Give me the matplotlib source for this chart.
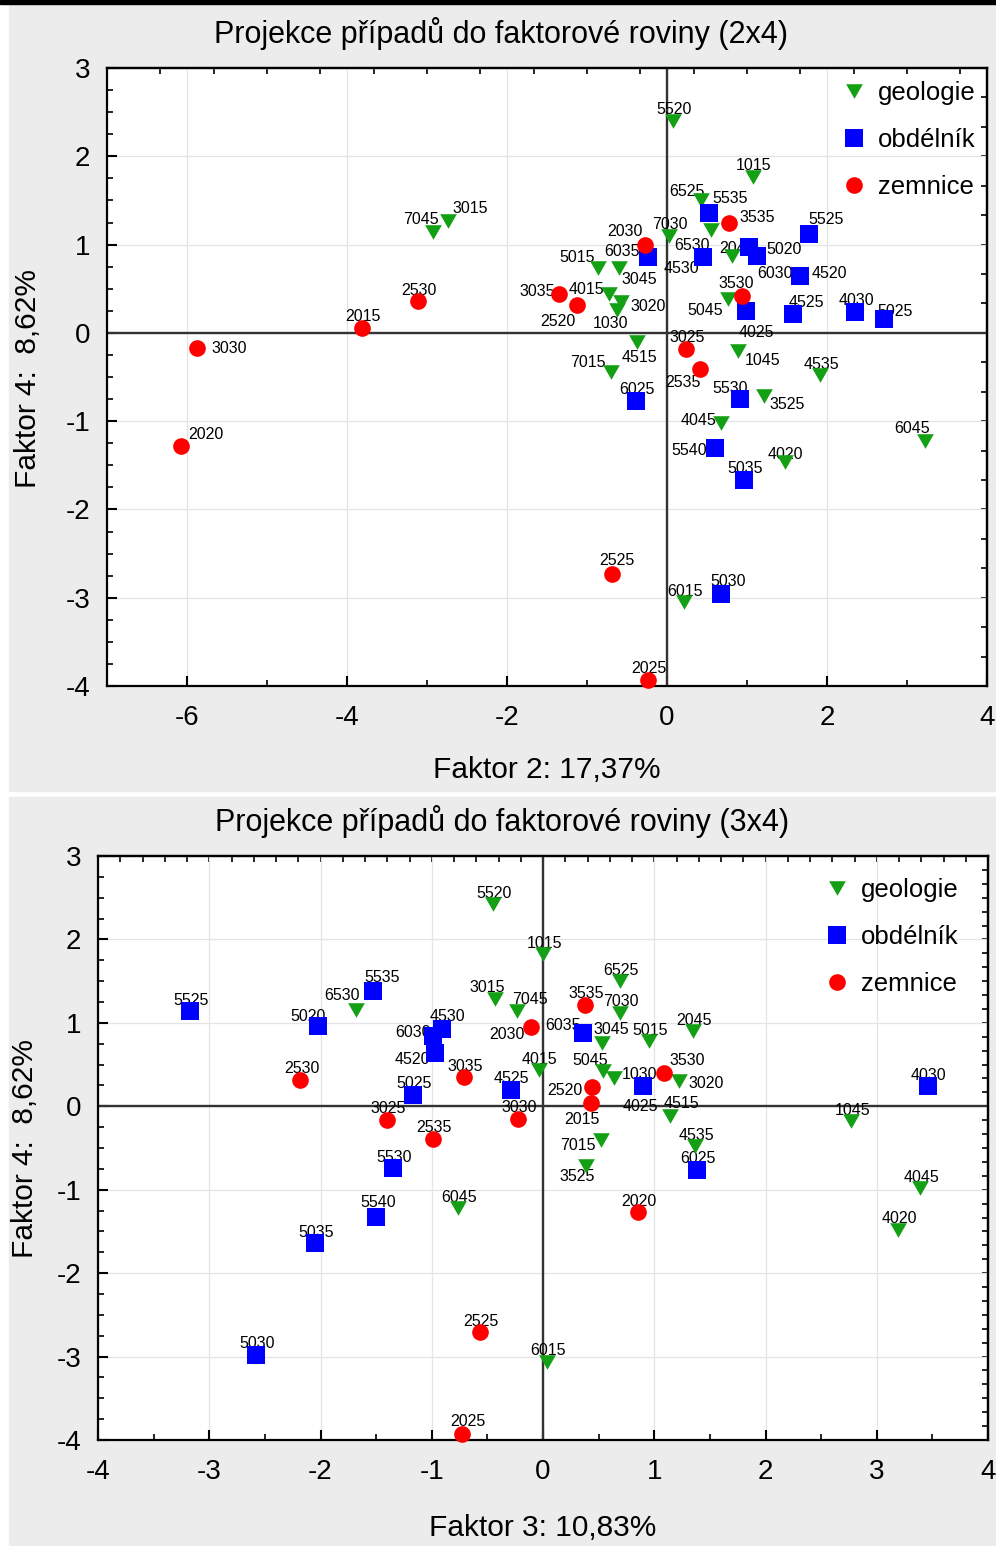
import matplotlib
matplotlib.use("Agg")
import matplotlib.pyplot as plt
import numpy as np
from matplotlib.lines import Line2D
from matplotlib.patches import Rectangle
from matplotlib.ticker import MultipleLocator

plt.rcParams['font.family'] = ['Liberation Sans', 'DejaVu Sans']
plt.rcParams['axes.unicode_minus'] = False

# ---------------- case scores ----------------
categories = ["geologie", "obdélník", "zemnice"]

geologie_ids = ["5520", "1015", "6525", "3015", "7045", "7030", "5015", "2045", "3045",
                "4015", "3020", "1030", "5045", "4515", "7015", "1045", "4535", "3525",
                "4045", "6045", "4020", "6015", "6530"]
geologie_f2 = [0.07, 1.07, 0.43, -2.74, -2.92, 0.02, -0.865, 0.815, -0.60,
               -0.72, -0.57, -0.63, 0.76, -0.38, -0.70, 0.885, 1.915, 1.21,
               0.68, 3.23, 1.475, 0.21, 0.55]
geologie_f4_24 = [2.40, 1.77, 1.50, 1.27, 1.14, 1.10, 0.74, 0.875, 0.74,
                  0.44, 0.35, 0.26, 0.385, -0.105, -0.445, -0.20, -0.48, -0.71,
                  -1.02, -1.22, -1.46, -3.05, 1.16]
geologie_f3 = [-0.45, 0.00, 0.69, -0.43, -0.23, 0.69, 0.955, 1.345, 0.53,
               -0.04, 1.22, 0.635, 0.54, 1.14, 0.525, 2.77, 1.37, 0.39,
               3.39, -0.76, 3.19, 0.04, -1.68]
geologie_f4_34 = [2.42, 1.82, 1.50, 1.28, 1.14, 1.12, 0.78, 0.90, 0.76,
                  0.43, 0.30, 0.34, 0.42, -0.12, -0.41, -0.18, -0.48, -0.72,
                  -0.98, -1.22, -1.48, -3.06, 1.16]

obdelnik_ids = ["5535", "5525", "5020", "6030", "4520", "4530", "6035", "4525", "4030",
                "5025", "4025", "6025", "5530", "5540", "5035", "5030"]
obdelnik_f2 = [0.53, 1.77, 1.03, 1.12, 1.66, 0.45, -0.24, 1.58, 2.35,
               2.71, 0.99, -0.385, 0.91, 0.60, 0.96, 0.67]
obdelnik_f4_24 = [1.355, 1.12, 0.97, 0.875, 0.645, 0.86, 0.86, 0.215, 0.24,
                  0.16, 0.245, -0.77, -0.75, -1.30, -1.665, -2.955]
obdelnik_f3 = [-1.53, -3.17, -2.02, -0.99, -0.97, -0.905, 0.36, -0.29, 3.46,
               -1.17, 0.90, 1.38, -1.35, -1.50, -2.05, -2.58]
obdelnik_f4_34 = [1.38, 1.14, 0.96, 0.84, 0.64, 0.93, 0.88, 0.20, 0.24,
                  0.14, 0.24, -0.76, -0.74, -1.33, -1.64, -2.98]

zemnice_ids = ["3535", "2030", "3530", "3035", "2520", "2015", "2530", "3030", "2020",
               "3025", "2535", "2525", "2025"]
zemnice_f2 = [0.77, -0.28, 0.94, -1.35, -1.13, -3.81, -3.11, -5.87, -6.07,
              0.24, 0.41, -0.69, -0.24]
zemnice_f4_24 = [1.24, 0.99, 0.42, 0.44, 0.32, 0.06, 0.36, -0.17, -1.28,
                 -0.18, -0.41, -2.73, -3.93]
zemnice_f3 = [0.375, -0.105, 1.09, -0.71, 0.44, 0.43, -2.18, -0.225, 0.85,
              -1.40, -0.99, -0.57, -0.73]
zemnice_f4_34 = [1.22, 0.95, 0.40, 0.35, 0.23, 0.04, 0.32, -0.15, -1.27,
                 -0.16, -0.39, -2.71, -3.93]

titles = ["Projekce případů do faktorové roviny (2x4)",
          "Projekce případů do faktorové roviny (3x4)"]
xlabels = ["Faktor 2: 17,37%", "Faktor 3: 10,83%"]
ylabel = "Faktor 4:  8,62%"

# ---------------- styling ----------------
W, H = 996, 1546
COLORS = {"geologie": "#14a014", "obdélník": "#0000ff", "zemnice": "#ff0000"}
TRI = [(-1, 0.875), (1, 0.875), (0, -0.875), (-1, 0.875)]
MARKERS = {"geologie": (TRI, 12.0), "obdélník": ("s", 12.5), "zemnice": ("o", 12.0)}

# label offsets (pixels: dx right, dy down) from the point centre
DEFAULT_OFF = (1, -11)
OFF_24 = {"6525": (-14, -9), "5535": (21, -15), "3535": (29, -6), "5525": (17, -14),
          "2030": (-20, -14), "6035": (-26, -5), "5015": (-21, -10), "3045": (20, 12),
          "6530": (-19, 15), "4530": (-22, 12), "2045": (5, -7), "5020": (35, 2),
          "6030": (18, 18), "4520": (30, -2), "4015": (-23, -5), "3035": (-22, -3),
          "3530": (-6, -12), "3020": (27, 5), "2520": (-19, 17), "1030": (-6, 14),
          "5045": (-23, 12), "4525": (13, -11), "5025": (11, -7), "4025": (10, 21),
          "3030": (32, 1), "4515": (3, 15), "1045": (25, 10), "7015": (-23, -10),
          "2535": (-17, 13), "5530": (-10, -11), "3525": (23, 9), "4045": (-23, -2),
          "2020": (24, -11), "6045": (-13, -12), "5540": (-26, 3), "4020": (0, -7),
          "5030": (8, -12), "7045": (-12, -13), "3015": (22, -12), "2525": (5, -13)}
OFF_34 = {"5535": (9, -14), "6530": (-14, -14), "5020": (-10, -10), "3015": (-8, -12),
          "7045": (13, -12), "4530": (5, -12), "6030": (-20, -4), "4520": (-23, 7),
          "2030": (-24, 7), "6035": (-20, -7), "3045": (9, -13), "5045": (-13, -11),
          "3530": (23, -12), "1030": (26, -3), "3020": (27, 2), "2520": (-27, 3),
          "4025": (-3, 20), "4515": (12, -13), "2015": (-9, 17), "7015": (-24, 5),
          "3525": (-9, 10), "2025": (6, -13), "5540": (2, -15)}


def fx(px):
    return px / W


def fy(py):
    return 1 - py / H


fig = plt.figure(figsize=(W / 100, H / 100), dpi=100)
fig.patch.set_facecolor("white")

# panel backgrounds and the rule across the top
fig.patches.append(Rectangle((fx(9), fy(791)), fx(W - 9), 786 / H,
                             transform=fig.transFigure, color="#ececec", zorder=-10))
fig.patches.append(Rectangle((fx(9), 0), fx(W - 9), 749 / H,
                             transform=fig.transFigure, color="#ececec", zorder=-10))
fig.patches.append(Rectangle((0, fy(4)), 1, 4 / H,
                             transform=fig.transFigure, color="black", zorder=-9))

ax1 = fig.add_axes([fx(107), fy(686), (987 - 107) / W, (686 - 68) / H])
ax2 = fig.add_axes([fx(98), fy(1440), (988 - 98) / W, (1440 - 856) / H])

data_24 = {"geologie": (geologie_ids, geologie_f2, geologie_f4_24),
           "obdélník": (obdelnik_ids, obdelnik_f2, obdelnik_f4_24),
           "zemnice": (zemnice_ids, zemnice_f2, zemnice_f4_24)}
data_34 = {"geologie": (geologie_ids, geologie_f3, geologie_f4_34),
           "obdélník": (obdelnik_ids, obdelnik_f3, obdelnik_f4_34),
           "zemnice": (zemnice_ids, zemnice_f3, zemnice_f4_34)}


def draw_plane(ax, data, offsets, xlim, xmajor, xminor, top_step, right_step):
    ax.set_xlim(*xlim)
    ax.set_ylim(-4, 3)
    ax.set_facecolor("white")
    ax.xaxis.set_major_locator(MultipleLocator(xmajor))
    ax.xaxis.set_minor_locator(MultipleLocator(xminor))
    ax.yaxis.set_major_locator(MultipleLocator(1))
    ax.yaxis.set_minor_locator(MultipleLocator(0.25))
    ax.grid(True, which="major", color="#e4e4e4", lw=0.9, zorder=0)
    ax.set_axisbelow(True)
    ax.axhline(0, color="#333333", lw=1.7, zorder=1.5)
    ax.axvline(0, color="#333333", lw=1.7, zorder=1.5)
    for s in ax.spines.values():
        s.set_linewidth(1.6)
        s.set_color("black")
    ax.tick_params(which="both", direction="in", top=False, right=False,
                   labelsize=20, colors="black")
    ax.tick_params(which="major", length=7, width=1.5)
    ax.tick_params(which="minor", length=4, width=1.2)
    ax.tick_params(axis="x", pad=14)
    ax.tick_params(axis="y", pad=12)

    sx = ax.secondary_xaxis("top")
    sx.set_xticks(np.arange(xlim[0], xlim[1] + 1e-6, top_step))
    sx.tick_params(direction="in", length=4, width=1.2, labeltop=False)
    sx.spines["top"].set_linewidth(1.6)
    sy = ax.secondary_yaxis("right")
    sy.set_yticks(np.arange(-4, 3 + 1e-6, right_step))
    sy.tick_params(direction="in", length=4, width=1.2, labelright=False)
    sy.spines["right"].set_linewidth(1.6)

    for cat in categories:
        ids, xs, ys = data[cat]
        m, ms = MARKERS[cat]
        ax.plot(xs, ys, ls="none", marker=m, ms=ms, color=COLORS[cat],
                mec=COLORS[cat], mew=0, zorder=4, clip_on=False)
        for name, x, y in zip(ids, xs, ys):
            dx, dy = offsets.get(name, DEFAULT_OFF)
            ax.annotate(name, (x, y), xytext=(dx, -dy), textcoords="offset pixels",
                        ha="center", va="center", fontsize=11.5, color="black",
                        zorder=3, annotation_clip=False)


draw_plane(ax1, data_24, OFF_24, (-7, 4), 2, 1, 2 / 3, 1 / 3)
draw_plane(ax2, data_34, OFF_34, (-4, 4), 1, 0.5, 0.2, 1 / 6)

handles = [Line2D([], [], ls="none", marker=MARKERS[c][0], ms=MARKERS[c][1],
                  color=COLORS[c], mew=0) for c in categories]
for ax, anchor in ((ax1, ((976 - 107) / 880, 1 - (81 - 68) / 618)),
                   (ax2, ((959 - 98) / 890, 1 - (878 - 856) / 584))):
    ax.legend(handles, categories, loc="upper right", bbox_to_anchor=anchor,
              frameon=False, fontsize=18.5, handlelength=1.0, handletextpad=0.45,
              labelspacing=0.9, borderpad=0, borderaxespad=0)

# titles and axis titles
fig.text(fx(501), fy(33), titles[0], ha="center", va="center", fontsize=22)
fig.text(fx(502), fy(822), titles[1], ha="center", va="center", fontsize=22)
fig.text(fx(547), fy(770), xlabels[0], ha="center", va="center", fontsize=21.5)
fig.text(fx(543), fy(1528), xlabels[1], ha="center", va="center", fontsize=21.5)
fig.text(fx(28), fy(379), ylabel, ha="center", va="center", fontsize=21.5, rotation=90)
fig.text(fx(25), fy(1149), ylabel, ha="center", va="center", fontsize=21.5, rotation=90)

fig.savefig("out.png", dpi=100)
